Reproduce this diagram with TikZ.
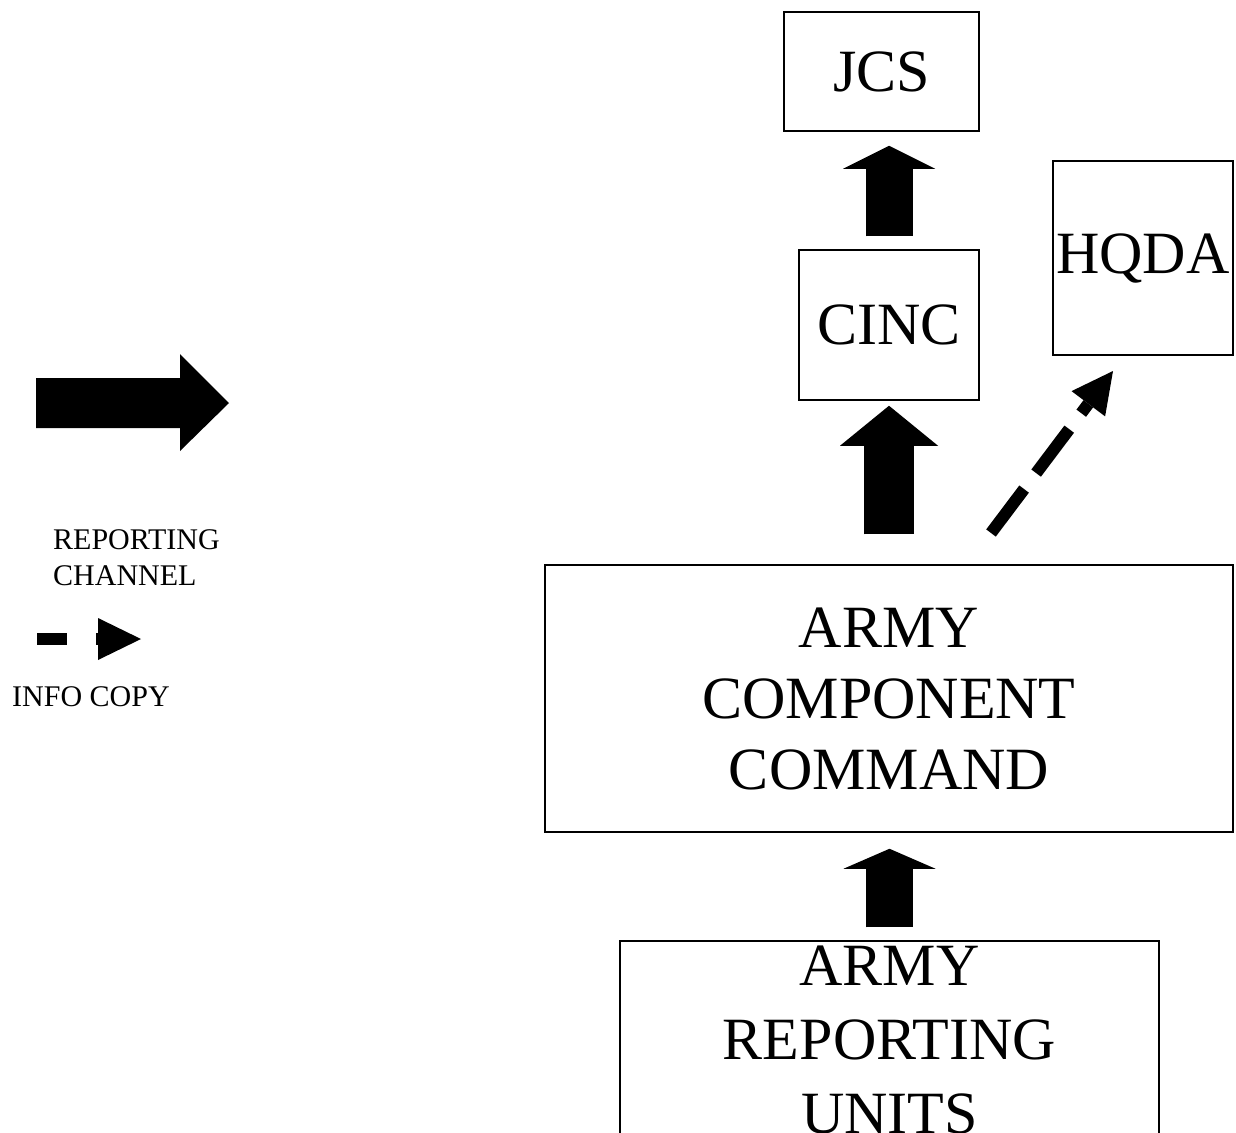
\documentclass[tikz,border=0pt]{standalone}
\usepackage{fontspec}
\setmainfont{Liberation Serif}
\usetikzlibrary{arrows.meta}
\begin{document}
\begin{tikzpicture}[x=1pt,y=-1pt,
  box/.style={draw,line width=1.5pt,inner sep=0pt,align=center,font=\fontsize{60}{71}\selectfont},
  blockarrow/.style n args={3}{line width=#1,-{Triangle[width=#2,length=#3,line width=0pt]}},
  infoarrow/.style={line width=12pt,dash pattern=on 55pt off 20pt,-{Triangle[width=42pt,length=41pt,line width=0pt]}},
  legendtext/.style={inner sep=0pt,align=left,font=\fontsize{30}{36}\selectfont}]
\useasboundingbox (0,0) rectangle (1236,1132);
% boxes
\node[box,minimum width=195pt,minimum height=119pt] (jcs) at (881.5,71.5) {JCS};
\node[box,minimum width=180pt,minimum height=150pt] (cinc) at (889,325) {CINC};
\node[box,minimum width=180pt,minimum height=194pt] (hqda) at (1143,258) {HQDA};
\node[box,minimum width=688pt,minimum height=267pt] (acc) at (889,698.5) {ARMY\\COMPONENT\\COMMAND};
\node[box,minimum width=539pt,minimum height=198pt,font=\fontsize{60}{74}\selectfont] (aru) at (889.5,1040) {ARMY\\REPORTING\\UNITS};
% reporting channels
\draw[blockarrow={47pt}{92pt}{23pt},shorten <=13pt,shorten >=14pt] (cinc.north) -- (cinc.north |- jcs.south);
\draw[blockarrow={50pt}{98pt}{40pt},shorten <=30pt,shorten >=5pt] (acc.north) -- (acc.north |- cinc.south);
\draw[blockarrow={47pt}{92pt}{20pt},shorten <=13pt,shorten >=16pt] (aru.north) -- (aru.north |- acc.south);
% info copy
\coordinate (dstart) at (991,533);
\coordinate (dend) at (1113,371);
\draw[infoarrow] (dstart) -- (dend);
% legend
\fill (36,378) -- (180,378) -- (180,354) -- (229,403) -- (180,451) -- (180,428) -- (36,428) -- cycle;
\node[legendtext,anchor=west] (lrc) at (53,558) {REPORTING\\CHANNEL};
\fill (37,633) rectangle (67,645);
\fill (96,633) rectangle (99,645);
\fill (98,618) -- (141,639) -- (98,660) -- cycle;
\node[legendtext,anchor=west] (lic) at (12,697) {INFO COPY};
\end{tikzpicture}
\end{document}
